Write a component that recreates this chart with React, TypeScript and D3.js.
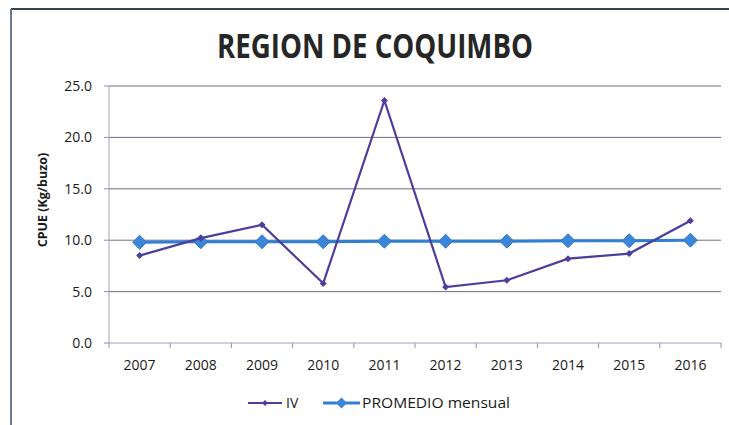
import React from 'react';
import * as d3 from 'd3';

const years = ['2007', '2008', '2009', '2010', '2011', '2012', '2013', '2014', '2015', '2016'];
const ivValues = [8.5, 10.2, 11.5, 5.8, 23.6, 5.45, 6.1, 8.2, 8.7, 11.9];
const promedioValues = [9.8, 9.85, 9.85, 9.85, 9.9, 9.9, 9.9, 9.95, 9.95, 10.0];
const yTicks = [0, 5, 10, 15, 20, 25];

const W = 729, H = 425;
const plot = { left: 109, right: 721, top: 86, bottom: 343 };

const diamond = (cx: number, cy: number, r: number) =>
    `M${cx},${cy - r}L${cx + r},${cy}L${cx},${cy + r}L${cx - r},${cy}Z`;

const App = () => {
    const x = d3.scaleBand().domain(years).range([plot.left, plot.right]);
    const y = d3.scaleLinear().domain([0, 25]).range([plot.bottom, plot.top]);
    const cx = (d: string) => (x(d) as number) + x.bandwidth() / 2;

    const line = d3.line<number>()
        .x((d, i) => cx(years[i]))
        .y(d => y(d));

    const font = "Open Sans, Calibri, sans-serif";
    const ivColor = '#4b3f9e';
    const promColor = '#2f7fd3';

    return (
        <svg width={W} height={H} style={{ position: 'absolute', left: 0, top: 0 }}
             fontFamily={font}>
            <rect x={0} y={0} width={W} height={H} fill="#ffffff"/>
            {/* chart frame */}
            <line x1={11} x2={W} y1={9} y2={9} stroke="#3b4352" strokeWidth={2}/>
            <line x1={11} x2={11} y1={9} y2={H} stroke="#6b7b90" strokeWidth={2}/>

            <text x={375} y={58} textAnchor="middle" fontSize={34} fontWeight="bold"
                  fill="#262626" textLength={316} lengthAdjust="spacingAndGlyphs">REGION DE COQUIMBO</text>

            {/* grid */}
            {yTicks.map(t => (
                <g key={t}>
                    {t > 0 && <line x1={plot.left} x2={plot.right} y1={y(t)} y2={y(t)}
                                    stroke="#6e6e86" strokeWidth={1}/>}
                    <line x1={plot.left - 5} x2={plot.left} y1={y(t)} y2={y(t)} stroke="#8c90b0"/>
                    <text x={92} y={y(t) + 5} textAnchor="end" fontSize={14} fill="#1a1a1a">{t.toFixed(1)}</text>
                </g>
            ))}
            <line x1={plot.left} x2={plot.left} y1={plot.top} y2={plot.bottom} stroke="#9aa2c4"/>
            <line x1={plot.left} x2={plot.right} y1={plot.bottom} y2={plot.bottom} stroke="#9aa2c4"/>
            {years.map((d, i) => (
                <g key={d}>
                    <line x1={x(d) as number} x2={x(d) as number} y1={plot.bottom} y2={plot.bottom + 5} stroke="#8c90b0"/>
                    {i === years.length - 1 &&
                        <line x1={plot.right} x2={plot.right} y1={plot.bottom} y2={plot.bottom + 5} stroke="#8c90b0"/>}
                    <text x={cx(d)} y={370} textAnchor="middle" fontSize={14} fill="#1a1a1a">{d}</text>
                </g>
            ))}

            <text transform={`translate(47,200) rotate(-90)`} textAnchor="middle" fontSize={12.5}
                  fontWeight="bold" fill="#1a1a1a">CPUE (Kg/buzo)</text>

            {/* PROMEDIO series */}
            <path d={line(promedioValues) || ''} fill="none" stroke={promColor} strokeWidth={3}/>
            {promedioValues.map((v, i) => (
                <path key={i} d={diamond(cx(years[i]), y(v), 7)} fill="#3b86d8" stroke="#2f78c8" strokeWidth={1}/>
            ))}

            {/* IV series */}
            <path d={line(ivValues) || ''} fill="none" stroke={ivColor} strokeWidth={2.2}/>
            {ivValues.map((v, i) => (
                <path key={i} d={diamond(cx(years[i]), y(v), 3.5)} fill={ivColor}/>
            ))}

            {/* legend */}
            <line x1={248} x2={282} y1={403} y2={403} stroke={ivColor} strokeWidth={2.2}/>
            <path d={diamond(265, 403, 3)} fill={ivColor}/>
            <text x={286} y={408} fontSize={14} fill="#1a1a1a">IV</text>
            <line x1={323} x2={360} y1={403} y2={403} stroke={promColor} strokeWidth={3}/>
            <path d={diamond(341.5, 403, 5.5)} fill="#3b86d8"/>
            <text x={362} y={408} fontSize={14} fill="#1a1a1a" textLength={148}
                  lengthAdjust="spacingAndGlyphs">PROMEDIO mensual</text>
        </svg>
    );
};

export default App;
